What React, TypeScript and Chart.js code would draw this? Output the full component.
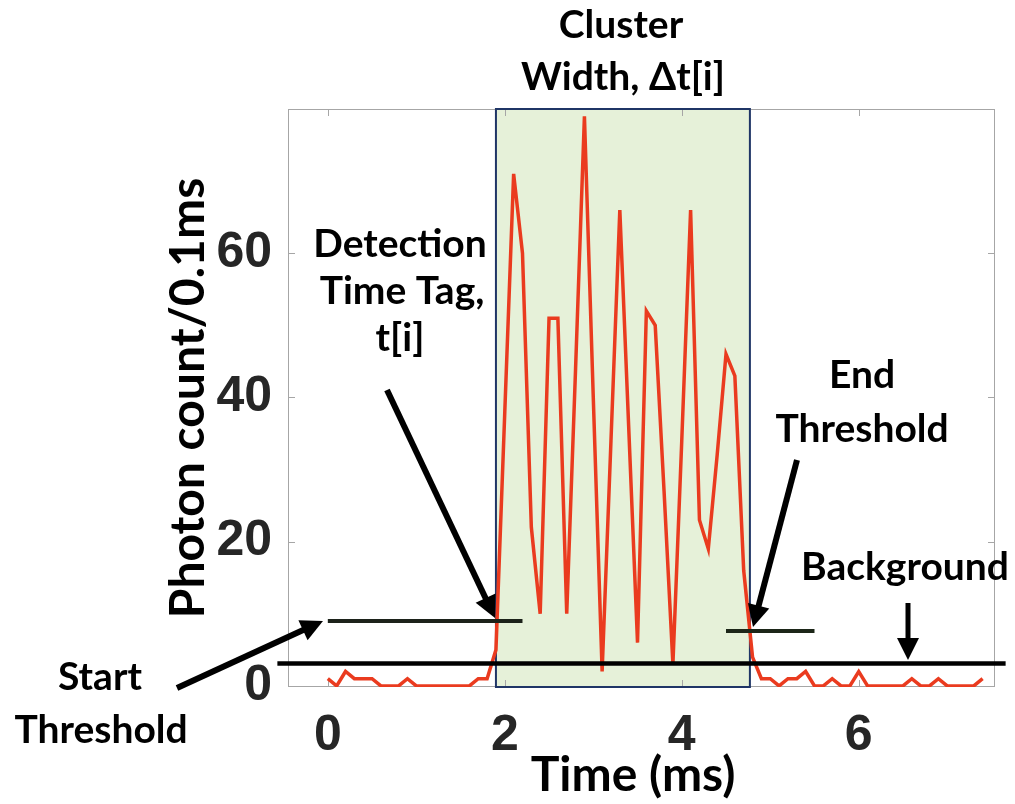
import React, { useEffect, useRef } from 'react';
import { Chart, registerables } from 'chart.js';

Chart.register(...registerables);

// ---- data ----
const TIME_MS = [
  0.0, 0.1, 0.2, 0.3, 0.4, 0.5, 0.6, 0.7, 0.8, 0.9,
  1.0, 1.1, 1.2, 1.3, 1.4, 1.5, 1.6, 1.7, 1.8, 1.9,
  2.0, 2.1, 2.2, 2.3, 2.4, 2.5, 2.6, 2.7, 2.8, 2.9,
  3.0, 3.1, 3.2, 3.3, 3.4, 3.5, 3.6, 3.7, 3.8, 3.9,
  4.0, 4.1, 4.2, 4.3, 4.4, 4.5, 4.6, 4.7, 4.8, 4.9,
  5.0, 5.1, 5.2, 5.3, 5.4, 5.5, 5.6, 5.7, 5.8, 5.9,
  6.0, 6.1, 6.2, 6.3, 6.4, 6.5, 6.6, 6.7, 6.8, 6.9,
  7.0, 7.1, 7.2, 7.3, 7.4,
];
const PHOTON_COUNTS = [
  1, 0, 2, 1, 1, 1, 0, 0, 0, 1,
  0, 0, 0, 0, 0, 0, 0, 1, 1, 5,
  38, 71, 60, 22, 10, 51, 51, 10, 44, 79,
  40, 2, 34, 66, 36, 6, 52, 50, 27, 3,
  34, 66, 23, 19, 32, 46, 43, 16, 4, 1,
  1, 0, 1, 1, 2, 0, 0, 1, 0, 0,
  2, 0, 0, 0, 0, 0, 1, 0, 0, 1,
  0, 0, 0, 0, 1,
];
const X_TICKS = [0, 2, 4, 6];
const Y_TICKS = [0, 20, 40, 60];
const START_THRESHOLD_X = [0, 2.2];
const START_THRESHOLD_Y = 9;
const END_THRESHOLD_X = [4.5, 5.5];
const END_THRESHOLD_Y = 7.6;
const BACKGROUND_X = [-0.57, 7.66];
const BACKGROUND_Y = 3.1;
const CLUSTER_RANGE = [1.9, 4.77];

// ---- styling ----
const ANNOT_FONT = 'bold 39px Lato';
const TITLE_FONT = 'bold 48px Lato';
const TICK_FONT = { family: 'Liberation Sans', size: 50, weight: 'bold' as const };
const FRAME_COLOR = '#a6a6a6';

const TEXTS: Array<[string, number, number, string]> = [
  ['Cluster', 621, 38, ANNOT_FONT],
  ['Width, \u0394t[i]', 623, 90, ANNOT_FONT],
  ['Detection', 400, 257, ANNOT_FONT],
  ['Time Tag,', 402, 304, ANNOT_FONT],
  ['t[i]', 400, 351, ANNOT_FONT],
  ['End', 862, 388, ANNOT_FONT],
  ['Threshold', 862, 442, ANNOT_FONT],
  ['Background', 905, 580, ANNOT_FONT],
  ['Start', 100, 690, ANNOT_FONT],
  ['Threshold', 101, 743, ANNOT_FONT],
  ['Time (ms)', 633, 791, TITLE_FONT],
];

const ARROWS: Array<[number, number, number, number, number]> = [
  [177, 688, 323, 621, 6],
  [387, 390, 495, 618, 6],
  [797, 460, 753, 627, 6],
  [908, 603, 908, 660, 5],
];

function drawArrow(ctx: CanvasRenderingContext2D, x0: number, y0: number, x1: number, y1: number, w: number) {
  const dx = x1 - x0, dy = y1 - y0;
  const len = Math.hypot(dx, dy);
  const ux = dx / len, uy = dy / len;
  const headLen = 22, headHalf = 11;
  const bx = x1 - ux * headLen, by = y1 - uy * headLen;
  ctx.save();
  ctx.strokeStyle = '#000';
  ctx.fillStyle = '#000';
  ctx.lineWidth = w;
  ctx.lineCap = 'butt';
  ctx.beginPath();
  ctx.moveTo(x0, y0);
  ctx.lineTo(bx + ux * 2, by + uy * 2);
  ctx.stroke();
  ctx.beginPath();
  ctx.moveTo(x1, y1);
  ctx.lineTo(bx - uy * headHalf, by + ux * headHalf);
  ctx.lineTo(bx + uy * headHalf, by - ux * headHalf);
  ctx.closePath();
  ctx.fill();
  ctx.restore();
}

const annotationPlugin = {
  id: 'clusterAnnotations',
  beforeDatasetsDraw(chart: any) {
    const { ctx, chartArea, scales } = chart;
    const xs = scales.x, ys = scales.y;
    const cx0 = xs.getPixelForValue(CLUSTER_RANGE[0]);
    const cx1 = xs.getPixelForValue(CLUSTER_RANGE[1]);
    ctx.save();
    ctx.fillStyle = '#e6f1d9';
    ctx.fillRect(cx0, chartArea.top, cx1 - cx0, chartArea.bottom - chartArea.top);
    ctx.restore();
    ctx.save();
    ctx.strokeStyle = FRAME_COLOR;
    ctx.lineWidth = 1;
    const { left, right, top, bottom } = chartArea;
    ctx.strokeRect(left + 0.5, top + 0.5, right - left - 1, bottom - top - 1);
    const tl = 7;
    ctx.beginPath();
    X_TICKS.forEach((v) => {
      const px = Math.round(xs.getPixelForValue(v)) + 0.5;
      ctx.moveTo(px, bottom); ctx.lineTo(px, bottom - tl);
      ctx.moveTo(px, top); ctx.lineTo(px, top + tl);
    });
    Y_TICKS.forEach((v) => {
      const py = Math.round(ys.getPixelForValue(v)) + 0.5;
      ctx.moveTo(left, py); ctx.lineTo(left + tl, py);
      ctx.moveTo(right, py); ctx.lineTo(right - tl, py);
    });
    ctx.stroke();
    ctx.restore();
    ctx.save();
    ctx.strokeStyle = '#1f3566';
    ctx.lineWidth = 2;
    ctx.strokeRect(cx0, chartArea.top, cx1 - cx0, chartArea.bottom - chartArea.top);
    ctx.restore();
  },
  afterDraw(chart: any) {
    const { ctx } = chart;
    ARROWS.forEach(([a, b, c, d, w]) => drawArrow(ctx, a, b, c, d, w));
    ctx.save();
    ctx.fillStyle = '#000';
    ctx.textAlign = 'center';
    ctx.textBaseline = 'alphabetic';
    TEXTS.forEach(([t, x, y, f]) => {
      ctx.font = f;
      ctx.fillText(t, x, y);
    });
    ctx.restore();
  },
};

export default function App() {
  const ref = useRef<HTMLCanvasElement | null>(null);
  useEffect(() => {
    if (!ref.current) return;
    const lineData = TIME_MS.map((t, i) => ({ x: t, y: PHOTON_COUNTS[i] }));
    const chart = new Chart(ref.current, {
      type: 'line',
      data: {
        datasets: [
          {
            label: 'Start threshold',
            data: START_THRESHOLD_X.map((x) => ({ x, y: START_THRESHOLD_Y })),
            borderColor: '#1c221a',
            borderWidth: 4,
            pointRadius: 0,
            order: 1,
          },
          {
            label: 'End threshold',
            data: END_THRESHOLD_X.map((x) => ({ x, y: END_THRESHOLD_Y })),
            borderColor: '#1c2618',
            borderWidth: 4,
            pointRadius: 0,
            order: 1,
          },
          {
            label: 'Background',
            data: BACKGROUND_X.map((x) => ({ x, y: BACKGROUND_Y })),
            borderColor: '#000000',
            borderWidth: 4.5,
            pointRadius: 0,
            clip: false as any,
            order: 1,
          },
          {
            label: 'Photon count',
            data: lineData,
            borderColor: '#ea3b1f',
            borderWidth: 3.5,
            pointRadius: 0,
            tension: 0,
            order: 3,
          },
        ],
      },
      options: {
        responsive: false,
        animation: false,
        devicePixelRatio: 1,
        layout: { padding: { left: 0, top: 109, right: 20, bottom: 0 } },
        plugins: { legend: { display: false }, tooltip: { enabled: false } },
        scales: {
          x: {
            type: 'linear',
            min: -0.45,
            max: 7.54,
            afterBuildTicks: (s: any) => { s.ticks = X_TICKS.map((v) => ({ value: v })); },
            afterFit: (s: any) => { s.height = 117; },
            grid: { display: false, drawTicks: false },
            border: { display: false },
            ticks: { font: TICK_FONT, color: '#262626', padding: 19, maxRotation: 0, autoSkip: false },
          },
          y: {
            type: 'linear',
            min: -0.15,
            max: 80,
            afterBuildTicks: (s: any) => { s.ticks = Y_TICKS.map((v) => ({ value: v })); },
            afterFit: (s: any) => { s.width = 288; },
            grid: { display: false, drawTicks: false },
            border: { display: false },
            ticks: { font: TICK_FONT, color: '#262626', padding: 16 },
            title: {
              display: true,
              text: 'Photon count/0.1ms',
              color: '#000',
              font: { family: 'Lato', size: 48, weight: 'bold' },
              padding: { top: 160, bottom: 0 },
            },
          },
        },
      },
      plugins: [annotationPlugin],
    } as any);
    if ((document as any).fonts && (document as any).fonts.ready) {
      (document as any).fonts.ready.then(() => { try { chart.update(); } catch (e) {} });
    }
    return () => chart.destroy();
  }, []);
  return (
    <div style={{ position: 'fixed', left: 0, top: 0, width: 1015, height: 804, background: '#fff' }}>
      <canvas ref={ref} width={1015} height={804} style={{ display: 'block' }} />
    </div>
  );
}
